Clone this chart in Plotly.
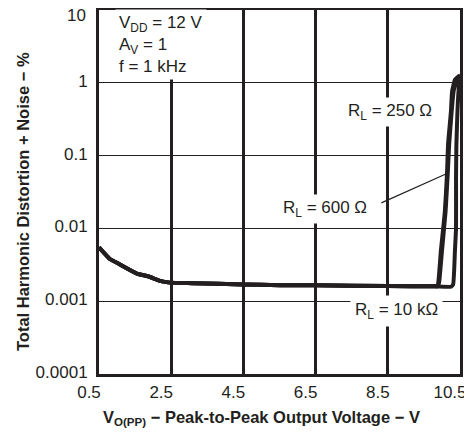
import math
import plotly.graph_objects as go

# Shared low-voltage portion (all loads overlap)
v_common = [0.5, 0.8, 1.08, 1.55, 1.86, 2.19, 2.47, 3.1, 4.49, 5.51, 6.5, 8.5, 9.8]
thd_common = [0.0055, 0.0038, 0.0032, 0.0024, 0.0022, 0.0019, 0.0018, 0.00177,
              0.0017, 0.00166, 0.00165, 0.00162, 0.0016]

# Clipping tails per load
v_250 = [9.85, 9.89, 9.97, 10.08, 10.14, 10.17, 10.25, 10.28, 10.36, 10.47, 10.5]
thd_250 = [0.0016, 0.0017, 0.0049, 0.017, 0.056, 0.144, 0.41, 0.76, 1.1, 1.24, 1.25]

v_600 = [9.88, 9.92, 10.0, 10.1, 10.16, 10.2, 10.27, 10.33, 10.45, 10.5]
thd_600 = [0.0016, 0.0018, 0.0049, 0.017, 0.056, 0.144, 0.41, 0.8, 1.15, 1.2]

v_10k = [10.25, 10.31, 10.36, 10.39, 10.39, 10.4, 10.43, 10.47, 10.5]
thd_10k = [0.00158, 0.0017, 0.005, 0.01, 0.05, 0.14, 0.41, 0.9, 1.1]

x_ticks = [0.5, 2.5, 4.5, 6.5, 8.5, 10.5]
x_tick_text = ["0.5", "2.5", "4.5", "6.5", "8.5", "10.5"]
y_ticks = [0.0001, 0.001, 0.01, 0.1, 1, 10]
y_tick_text = ["0.0001", "0.001", "0.01", "0.1", "1", "10"]

FONT = "Liberation Sans, Arial, sans-serif"
INK = "#231f20"
L = math.log10

fig = go.Figure()
for name, vx, vy in [("R_L = 10 kΩ", v_common + v_10k, thd_common + thd_10k),
                     ("R_L = 600 Ω", v_common + v_600, thd_common + thd_600),
                     ("R_L = 250 Ω", v_common + v_250, thd_common + thd_250)]:
    fig.add_trace(go.Scatter(x=vx, y=vy, mode="lines", name=name,
                             line=dict(color=INK, width=4, shape="spline", smoothing=0.4),
                             showlegend=False))

# top tick label ("10") sits at the very edge of the figure: draw it a bit lower
y_axis_text = y_tick_text[:-1] + [""]

fig.update_layout(
    width=472, height=436,
    margin=dict(l=91, r=20, t=2, b=70, autoexpand=False),
    paper_bgcolor="white", plot_bgcolor="white",
    font=dict(family=FONT, color=INK, size=17),
    xaxis=dict(range=[0.5, 10.5], tickvals=x_ticks, ticktext=x_tick_text,
               showgrid=True, gridcolor=INK, gridwidth=3, automargin=False,
               showline=True, linecolor=INK, linewidth=3, mirror=True,
               ticks="", zeroline=False, tickfont=dict(size=17),
               ticklabelstandoff=1, ticklabelshift=-10, ticklabeloverflow="allow"),
    yaxis=dict(type="log", range=[-4, 1], tickvals=y_ticks, ticktext=y_axis_text,
               showgrid=True, gridcolor=INK, gridwidth=1.2, automargin=False,
               showline=True, linecolor=INK, linewidth=3, mirror=True,
               ticks="", zeroline=False, tickfont=dict(size=17),
               ticklabelstandoff=5, ticklabelshift=-2, ticklabeloverflow="allow"),
)

fig.add_annotation(x=-0.03, y=0.986, xref="paper", yref="paper", showarrow=False,
                   xanchor="right", yanchor="middle", text=y_tick_text[-1],
                   font=dict(size=17))

# axis titles
fig.add_annotation(x=0.449, y=-0.12, xref="paper", yref="paper", showarrow=False,
                   xanchor="center", yanchor="middle",
                   text="<b>V<sub>O(PP)</sub> − Peak-to-Peak Output Voltage − V</b>",
                   font=dict(size=16.5))
fig.add_annotation(x=-0.21, y=0.473, xref="paper", yref="paper", showarrow=False,
                   xanchor="center", yanchor="middle",
                   textangle=-90, text="<b>Total Harmonic Distortion + Noise − %</b>",
                   font=dict(size=16.5))

# condition block
fig.add_annotation(x=0.943, y=0.532, xref="x", yref="y", xanchor="left", yanchor="middle",
                   align="left", showarrow=False, bgcolor="white", borderpad=3,
                   text="V<sub>DD</sub> = 12 V<br>A<sub>V</sub> = 1<br>f = 1 kHz",
                   font=dict(size=17))
fig.add_annotation(x=8.56, y=-0.405, xref="x", yref="y", showarrow=False, bgcolor="white",
                   borderpad=3, text="R<sub>L</sub> = 250 Ω", font=dict(size=17))
fig.add_annotation(x=6.76, y=-1.727, xref="x", yref="y", showarrow=False, bgcolor="white",
                   borderpad=3, text="R<sub>L</sub> = 600 Ω", font=dict(size=17))
fig.add_annotation(x=10.14, y=-1.245, xref="x", yref="y", ax=8.28, ay=-1.658,
                   axref="x", ayref="y", showarrow=True, arrowhead=0, arrowwidth=1.2,
                   arrowcolor=INK, text="")
fig.add_annotation(x=8.75, y=-3.132, xref="x", yref="y", showarrow=False, bgcolor="white",
                   borderpad=4, text="R<sub>L</sub> = 10 kΩ", font=dict(size=17))

fig.write_html("out.html")
